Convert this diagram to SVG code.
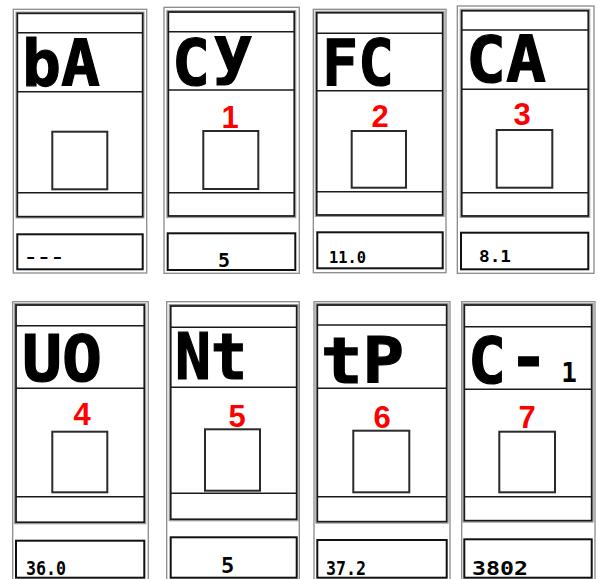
<svg xmlns="http://www.w3.org/2000/svg" width="598" height="579" viewBox="0 0 598 579">
<style>
.bg{fill:#ffffff}
.outer{fill:none;stroke:#8a8a8a;stroke-width:1.3}
.inner{fill:none;stroke:#1a1a1a;stroke-width:1.8}
.innerg{fill:none;stroke:#9a9a9a;stroke-width:1}
.row{stroke:#1a1a1a;stroke-width:1.6}
.sq{fill:#ffffff;stroke:#2a2a2a;stroke-width:2}
.box{fill:#ffffff;stroke:#111111;stroke-width:2}
.seg{font-family:"DejaVu Sans Mono","Liberation Mono",monospace;font-weight:bold;fill:#000000}
.big{font-size:64px;stroke:#000000;stroke-width:1.2}
.num{font-family:"Liberation Sans",Arial,sans-serif;font-weight:bold;font-size:31px;fill:#ff0000;text-anchor:middle}
</style>
<rect class="bg" x="0" y="0" width="598" height="579"/>

<g id="panel-bA">
<rect class="outer" x="13.3" y="9.3" width="133.4" height="263.7"/>
<rect class="innerg" x="16" y="12" width="128" height="206"/>
<rect class="inner" x="17.3" y="13.3" width="125.4" height="203.4"/>
<line class="row" x1="17.3" y1="32.7" x2="142.7" y2="32.7"/>
<line class="row" x1="17.3" y1="91.7" x2="142.7" y2="91.7"/>
<line class="row" x1="17.3" y1="192.7" x2="142.7" y2="192.7"/>
<rect class="sq" x="52.3" y="131.7" width="55" height="57.6"/>
<rect class="box" x="17.3" y="234.3" width="125.4" height="35"/>
<text class="seg big" x="22" y="86" textLength="78" lengthAdjust="spacingAndGlyphs">bA</text>
<text class="seg" x="24" y="262" font-size="14" textLength="40" lengthAdjust="spacingAndGlyphs">---</text>
</g>

<g id="panel-Cy">
<rect class="outer" x="164" y="7.3" width="135.3" height="266"/>
<rect class="innerg" x="166.8" y="10.6" width="129" height="207"/>
<rect class="inner" x="168.3" y="12" width="126" height="204"/>
<line class="row" x1="168.3" y1="31.7" x2="294.3" y2="31.7"/>
<line class="row" x1="168.3" y1="90" x2="294.3" y2="90"/>
<line class="row" x1="168.3" y1="192.7" x2="294.3" y2="192.7"/>
<rect class="sq" x="203.3" y="131" width="55" height="58"/>
<rect class="box" x="167.7" y="233.3" width="127.6" height="36.7"/>
<text class="seg big" x="172" y="85" textLength="38" lengthAdjust="spacingAndGlyphs">C</text>
<text class="seg big" x="213" y="72" textLength="40" lengthAdjust="spacingAndGlyphs">y</text>
<text class="num" x="230" y="128">1</text>
<text class="seg" x="224" y="266.5" font-size="20" text-anchor="middle">5</text>
</g>

<g id="panel-FC">
<rect class="outer" x="313.3" y="9.3" width="132.7" height="263.4"/>
<rect class="innerg" x="315.2" y="11.2" width="129" height="205.3"/>
<rect class="inner" x="316.7" y="12.7" width="126" height="202.3"/>
<line class="row" x1="316.7" y1="33.3" x2="442.7" y2="33.3"/>
<line class="row" x1="316.7" y1="90.7" x2="442.7" y2="90.7"/>
<line class="row" x1="316.7" y1="191.7" x2="442.7" y2="191.7"/>
<rect class="sq" x="351.7" y="131" width="54.3" height="56.7"/>
<rect class="box" x="317.3" y="232.3" width="125.4" height="36"/>
<text class="seg big" x="322" y="85" textLength="72" lengthAdjust="spacingAndGlyphs">FC</text>
<text class="num" x="380" y="127">2</text>
<text class="seg" x="329" y="262.5" font-size="15" textLength="37" lengthAdjust="spacingAndGlyphs">11.0</text>
</g>

<g id="panel-CA">
<rect class="outer" x="457.3" y="6" width="136.7" height="267.3"/>
<rect class="innerg" x="460.2" y="9.2" width="129.6" height="208.3"/>
<rect class="inner" x="461.7" y="10.7" width="126.6" height="205.3"/>
<line class="row" x1="461.7" y1="30" x2="588.3" y2="30"/>
<line class="row" x1="461.7" y1="89.3" x2="588.3" y2="89.3"/>
<line class="row" x1="461.7" y1="192.7" x2="588.3" y2="192.7"/>
<rect class="sq" x="496.7" y="130" width="55.6" height="57.7"/>
<rect class="box" x="461" y="232.7" width="127.3" height="36.6"/>
<text class="seg big" x="466" y="82" textLength="80" lengthAdjust="spacingAndGlyphs">CA</text>
<text class="num" x="522" y="125">3</text>
<text class="seg" x="479" y="262" font-size="15" textLength="32" lengthAdjust="spacingAndGlyphs">8.1</text>
</g>

<g id="panel-UO">
<rect class="outer" x="12.7" y="301.7" width="135.6" height="290"/>
<rect class="innerg" x="14.5" y="303.5" width="131.3" height="220.3"/>
<rect class="inner" x="16" y="305" width="128.3" height="217.3"/>
<line class="row" x1="16" y1="325.7" x2="144.3" y2="325.7"/>
<line class="row" x1="16" y1="388.3" x2="144.3" y2="388.3"/>
<line class="row" x1="16" y1="496.7" x2="144.3" y2="496.7"/>
<rect class="sq" x="52.3" y="431.7" width="55" height="60.6"/>
<rect class="box" x="16" y="540.7" width="128.3" height="37"/>
<text class="seg big" x="22" y="381" textLength="80" lengthAdjust="spacingAndGlyphs">UO</text>
<text class="num" x="82" y="425">4</text>
<text class="seg" x="26" y="575" font-size="20" textLength="40" lengthAdjust="spacingAndGlyphs">36.0</text>
</g>

<g id="panel-Nt">
<rect class="outer" x="166.7" y="301.7" width="132.6" height="290"/>
<rect class="innerg" x="169.2" y="304.5" width="129" height="216.3"/>
<rect class="inner" x="170.7" y="306" width="126" height="213.3"/>
<line class="row" x1="170.7" y1="327.3" x2="296.7" y2="327.3"/>
<line class="row" x1="170.7" y1="387.3" x2="296.7" y2="387.3"/>
<line class="row" x1="170.7" y1="493.3" x2="296.7" y2="493.3"/>
<rect class="sq" x="205" y="429.3" width="55" height="61.4"/>
<rect class="box" x="170.7" y="537.3" width="126" height="40.4"/>
<text class="seg big" x="175" y="379" textLength="72" lengthAdjust="spacingAndGlyphs">Nt</text>
<text class="num" x="237" y="427">5</text>
<text class="seg" x="227.5" y="573" font-size="22" text-anchor="middle">5</text>
</g>

<g id="panel-tP">
<rect class="outer" x="314" y="301.7" width="136" height="290"/>
<rect class="innerg" x="315.8" y="303.5" width="132.4" height="219.7"/>
<rect class="inner" x="317.3" y="305" width="129.4" height="216.7"/>
<line class="row" x1="317.3" y1="325" x2="446.7" y2="325"/>
<line class="row" x1="317.3" y1="388.3" x2="446.7" y2="388.3"/>
<line class="row" x1="317.3" y1="496.7" x2="446.7" y2="496.7"/>
<rect class="sq" x="353.3" y="430.7" width="56" height="61.6"/>
<rect class="box" x="317.3" y="540" width="129.4" height="37.7"/>
<text class="seg big" x="321" y="383" textLength="83" lengthAdjust="spacingAndGlyphs">tP</text>
<text class="num" x="382" y="428">6</text>
<text class="seg" x="326" y="575" font-size="20" textLength="40" lengthAdjust="spacingAndGlyphs">37.2</text>
</g>

<g id="panel-C1">
<rect class="outer" x="461.7" y="301.7" width="133.3" height="290"/>
<rect class="innerg" x="462.8" y="303.5" width="130.4" height="218.7"/>
<rect class="inner" x="464.3" y="305" width="127.4" height="215.7"/>
<line class="row" x1="464.3" y1="326.7" x2="591.7" y2="326.7"/>
<line class="row" x1="464.3" y1="389.3" x2="591.7" y2="389.3"/>
<line class="row" x1="464.3" y1="496.7" x2="591.7" y2="496.7"/>
<rect class="sq" x="499.3" y="431.7" width="55.7" height="60.6"/>
<rect class="box" x="464.3" y="539.3" width="127.4" height="38.4"/>
<text class="seg big" x="468" y="383" textLength="38" lengthAdjust="spacingAndGlyphs">C</text>
<text class="seg big" x="528.5" y="380" text-anchor="middle">-</text>
<text class="seg" x="569" y="382" font-size="26" text-anchor="middle">1</text>
<text class="num" x="527" y="428">7</text>
<text class="seg" x="472" y="575" font-size="20" textLength="56" lengthAdjust="spacingAndGlyphs">3802</text>
</g>
</svg>
